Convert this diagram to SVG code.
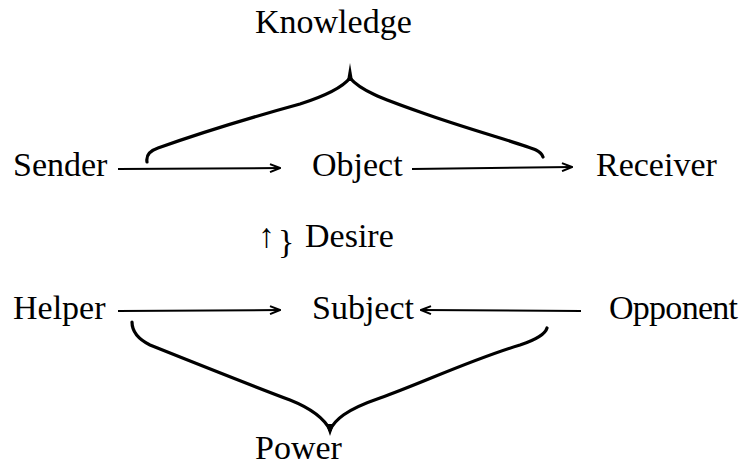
<svg xmlns="http://www.w3.org/2000/svg" width="743" height="467" viewBox="0 0 743 467">
<style>
.t{font-family:"Liberation Serif","Times New Roman",serif;font-size:34px;fill:#000}
.ln{stroke:#000;stroke-width:2;fill:none}
.br{stroke:#000;stroke-width:3.2;fill:none;stroke-linecap:round;stroke-linejoin:round}
</style>
<defs>
<marker id="ah" viewBox="0 0 12 10" refX="11" refY="5" markerWidth="12" markerHeight="10" orient="auto" markerUnits="userSpaceOnUse">
<path d="M1,1 L11,5 L1,9" fill="none" stroke="#000" stroke-width="2"/>
</marker>
</defs>
<rect width="743" height="467" fill="#fff"/>
<g id="knowledge"><text class="t" x="255" y="33">Knowledge</text></g>
<g id="sender"><text class="t" x="13" y="176">Sender</text></g>
<g id="object"><text class="t" x="312" y="176">Object</text></g>
<g id="receiver"><text class="t" x="596" y="176">Receiver</text></g>
<g id="desire">
<text class="t" x="258" y="247" font-family="'DejaVu Sans',sans-serif" font-size="22" font-weight="bold">↑</text>
<text class="t" x="278" y="253" font-size="42">}</text>
<text class="t" x="305" y="247">Desire</text>
</g>
<g id="helper"><text class="t" x="13" y="319">Helper</text></g>
<g id="subject"><text class="t" x="312" y="319">Subject</text></g>
<g id="opponent"><text class="t" x="609" y="319" textLength="129">Opponent</text></g>
<g id="power"><text class="t" x="255" y="459">Power</text></g>
<g id="connectors">
<line class="ln" x1="118" y1="169" x2="280" y2="168" marker-end="url(#ah)"/>
<line class="ln" x1="412" y1="169" x2="572" y2="167" marker-end="url(#ah)"/>
<line class="ln" x1="118" y1="311" x2="280" y2="310" marker-end="url(#ah)"/>
<line class="ln" x1="581" y1="311" x2="421" y2="310" marker-end="url(#ah)"/>
<path class="br" d="M147,162 C146,156 149,151 158,148 C200,133 260,115 300,104 C325,96 342,88 350,78"/>
<path class="br" d="M350,78 C360,90 380,98 420,112 C470,130 520,143 536,150 C540,152 542,154 543,157"/>
<path d="M347,81 L350,63 L353,81 Z" fill="#000"/>
<path class="br" d="M132,322 C132,330 136,338 150,345 C200,365 250,385 290,400 C315,410 325,420 330,430"/>
<path class="br" d="M330,430 C335,420 345,410 380,398 C420,384 470,360 520,345 C535,340 545,335 547,328"/>
<path d="M326,424 L330,436 L334,424 Z" fill="#000"/>
</g>
</svg>
